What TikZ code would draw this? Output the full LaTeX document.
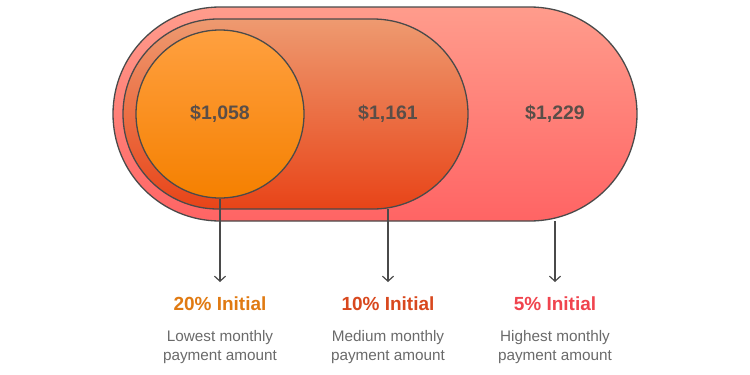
\documentclass[tikz,border=0pt]{standalone}
\usepackage{fontspec}
\setmainfont{Liberation Sans}
\usetikzlibrary{shapes.misc,arrows.meta}
\definecolor{edge}{HTML}{4A4A4A}
\definecolor{valtxt}{HTML}{5A4E48}
\definecolor{subtxt}{HTML}{6A6A6A}
\definecolor{oTop}{HTML}{FF9C8C}
\definecolor{oBot}{HTML}{FF6464}
\definecolor{mTop}{HTML}{EE9A70}
\definecolor{mBot}{HTML}{E84418}
\definecolor{cTop}{HTML}{FFA040}
\definecolor{cBot}{HTML}{F58000}
\definecolor{tA}{HTML}{E07A12}
\definecolor{tB}{HTML}{D8481E}
\definecolor{tC}{HTML}{F0444E}
\tikzset{
  pill/.style={rounded rectangle, draw=edge, line width=1.3pt, inner sep=0pt},
  val/.style={font=\bfseries\fontsize{19.5}{22}\selectfont, text=valtxt},
  head/.style={font=\bfseries\fontsize{19}{22}\selectfont},
  sub/.style={font=\fontsize{15.3}{19.5}\selectfont, text=subtxt, align=center},
  conn/.style={draw=edge, line width=1.2pt, -{Straight Barb[length=5pt,width=11pt,line width=1.2pt]}}
}
\begin{document}
\begin{tikzpicture}[x=1pt,y=-1pt]
\useasboundingbox (0,0) rectangle (750,375);
\node[pill, minimum width=524pt, minimum height=214pt, top color=oTop, bottom color=oBot] (outer) at (375,114) {};
\node[pill, minimum width=345pt, minimum height=190pt, top color=mTop, bottom color=mBot] (mid) at (295.5,114) {};
\node[circle, draw=edge, line width=1.3pt, minimum size=168pt, inner sep=0pt, top color=cTop, bottom color=cBot] (circ) at (220,114) {};
\node[val] (v1) at (220,114) {\$1,058};
\node[val] (v2) at (388,114) {\$1,161};
\node[val] (v3) at (555,114) {\$1,229};
\coordinate (m1) at (388,209);
\coordinate (o1) at (555,221);
\coordinate (e1) at (220,282);
\coordinate (e2) at (388,282);
\coordinate (e3) at (555,282);
\draw[conn] (circ.south) -- (e1);
\draw[conn] (m1) -- (e2);
\draw[conn] (o1) -- (e3);
\node[head, text=tA] (h1) at (220,304) {20\% Initial};
\node[head, text=tB] (h2) at (388,304) {10\% Initial};
\node[head, text=tC] (h3) at (555,304) {5\% Initial};
\node[sub] (s1) at (220,347) {Lowest monthly\\payment amount};
\node[sub] (s2) at (388,347) {Medium monthly\\payment amount};
\node[sub] (s3) at (555,347) {Highest monthly\\payment amount};
\end{tikzpicture}
\end{document}
